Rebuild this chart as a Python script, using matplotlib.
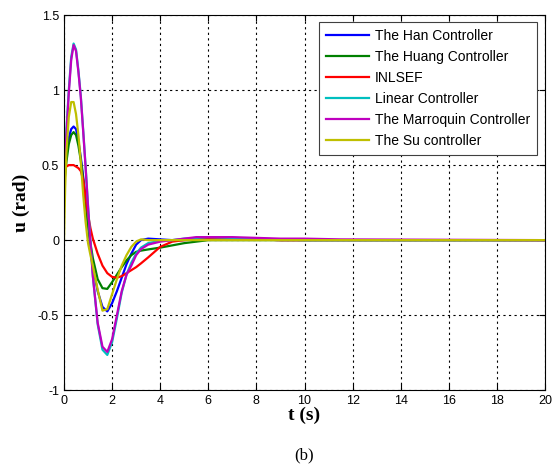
import numpy as np
import matplotlib
matplotlib.use('Agg')
import matplotlib.pyplot as plt
from matplotlib.ticker import FuncFormatter

plt.rcParams['axes.unicode_minus'] = False

# time samples (s)
t = [0, 0.05, 0.1, 0.2, 0.3, 0.4, 0.5, 0.6, 0.7, 0.8, 0.9, 1.0, 1.1, 1.2, 1.4, 1.6, 1.8,
     2.0, 2.2, 2.4, 2.6, 2.8, 3.0, 3.2, 3.5, 4.0, 4.5, 5.0, 5.5, 6.0, 7.0, 8.0, 9.0,
     10.0, 11.5, 20.0]

u_han = [0.40, 0.48, 0.56, 0.68, 0.74, 0.757, 0.74, 0.66, 0.55, 0.42, 0.27, 0.10, -0.05,
         -0.18, -0.34, -0.445, -0.475, -0.42, -0.34, -0.25, -0.16, -0.09, -0.03, 0.0, 0.01,
         0.005, 0.0, 0.0, 0.005, 0.01, 0.01, 0.005, 0.0, 0.0, 0.0, 0.0]
u_huang = [0.36, 0.44, 0.52, 0.64, 0.70, 0.72, 0.70, 0.63, 0.53, 0.40, 0.26, 0.10, -0.02,
           -0.12, -0.26, -0.32, -0.325, -0.28, -0.23, -0.18, -0.135, -0.10, -0.078, -0.07,
           -0.062, -0.05, -0.035, -0.02, -0.01, 0.0, 0.0, 0.0, 0.0, 0.0, 0.0, 0.0]
u_inlsef = [0.47, 0.48, 0.49, 0.50, 0.50, 0.50, 0.49, 0.48, 0.46, 0.40, 0.28, 0.17, 0.08,
            0.01, -0.09, -0.17, -0.22, -0.245, -0.25, -0.24, -0.22, -0.20, -0.18, -0.155,
            -0.115, -0.045, -0.01, 0.0, 0.005, 0.01, 0.01, 0.005, 0.0, 0.0, 0.0, 0.0]
u_linear = [0.40, 0.58, 0.73, 1.00, 1.22, 1.31, 1.27, 1.13, 0.96, 0.73, 0.49, 0.23, -0.01,
            -0.24, -0.56, -0.73, -0.765, -0.68, -0.52, -0.35, -0.23, -0.15, -0.09, -0.05,
            -0.02, -0.005, 0.0, 0.01, 0.015, 0.02, 0.015, 0.01, 0.005, 0.0, 0.0, 0.0]
u_marroquin = [0.35, 0.55, 0.70, 0.98, 1.20, 1.30, 1.26, 1.12, 0.95, 0.72, 0.48, 0.22, -0.02,
               -0.24, -0.55, -0.71, -0.745, -0.66, -0.50, -0.34, -0.23, -0.17, -0.10, -0.06,
               -0.03, -0.01, 0.0, 0.01, 0.02, 0.02, 0.02, 0.015, 0.01, 0.01, 0.005, 0.0]
u_su = [0.0, 0.35, 0.58, 0.82, 0.92, 0.92, 0.84, 0.70, 0.52, 0.30, 0.12, -0.02, -0.10,
        -0.17, -0.33, -0.47, -0.46, -0.36, -0.26, -0.17, -0.10, -0.045, -0.01, 0.005, 0.0,
        0.0, 0.0, 0.0, 0.0, 0.0, 0.0, 0.0, 0.0, 0.0, 0.0, 0.0]

labels = ['The Han Controller', 'The Huang Controller', 'INLSEF', 'Linear Controller',
          'The Marroquin Controller', 'The Su controller']
colors = ['#0000ff', '#008000', '#ff0000', '#00bfbf', '#bf00bf', '#bfbf00']
series = [u_han, u_huang, u_inlsef, u_linear, u_marroquin, u_su]

fig = plt.figure(figsize=(5.53, 4.69), dpi=100)
ax = fig.add_axes([0.1157, 0.168, 0.870, 0.800])

for u, lab, col in zip(series, labels, colors):
    ax.plot(t, u, color=col, lw=1.6, label=lab)

ax.set_xlim(0, 20)
ax.set_ylim(-1, 1.5)
ax.set_xticks(np.arange(0, 21, 2))
ax.set_yticks([-1, -0.5, 0, 0.5, 1, 1.5])
ax.yaxis.set_major_formatter(FuncFormatter(lambda v, p: '%g' % v))
ax.grid(True, color='black', linestyle=(0, (2, 3)), linewidth=0.8)
ax.tick_params(direction='in', top=True, right=True, length=4, labelsize=9)
for lab in ax.get_xticklabels() + ax.get_yticklabels():
    lab.set_family('Liberation Sans')
for s in ax.spines.values():
    s.set_linewidth(0.8)

ax.set_xlabel('t (s)', family='Liberation Serif', fontweight='bold', fontsize=14, labelpad=0)
ax.set_ylabel('u (rad)', family='Liberation Serif', fontweight='bold', fontsize=14, labelpad=6)
fig.text(0.5 * (0.1157 + 0.9857), 0.03, '(b)', family='Liberation Serif', fontsize=12,
         ha='center', va='center')

leg = ax.legend(loc='upper right', bbox_to_anchor=(0.983, 0.981), fancybox=False,
                framealpha=1, edgecolor='#404040', handlelength=3.1, borderpad=0.5,
                labelspacing=0.5, handletextpad=0.4, borderaxespad=0,
                prop={'family': 'Liberation Sans', 'size': 10})
leg.get_frame().set_linewidth(0.8)

fig.savefig('out.png', dpi=100)
